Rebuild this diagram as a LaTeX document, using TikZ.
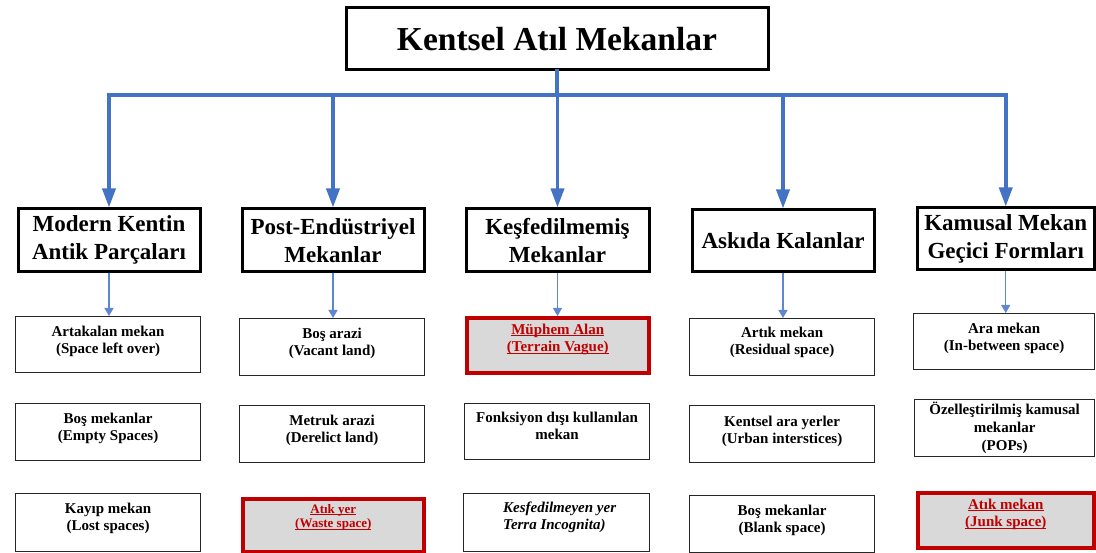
\documentclass[tikz,border=0pt]{standalone}
\usepackage{fontspec}
\setmainfont{Liberation Serif}
\usetikzlibrary{arrows.meta}
\definecolor{linkblue}{HTML}{4472C4}
\definecolor{softblue}{HTML}{5F86CF}
\definecolor{darkred}{HTML}{C00000}
\definecolor{panelgray}{HTML}{D9D9D9}
% underline with a fixed offset below the baseline
\newcommand\ulred[1]{\setbox0\hbox{#1}\rlap{\rule[-2pt]{\wd0}{0.9pt}}\box0}
% a box given by its top-left and bottom-right corners
\newcommand\cell[7]{\node[#2, anchor=north west, minimum width={#5-#3}, minimum height={#6-#4}] (#1) at (#3,#4) {#7};}
% text hanging from the top of a box; #3 = distance of the first baseline
\newcommand\tx[4]{\node[#2] (#1t) at ([yshift={-(#3-14)*1pt}]#1.north) {\rule{0pt}{14pt}#4};}
\begin{document}
\begin{tikzpicture}[x=1pt,y=-1pt,
  titlebox/.style={draw=black, line width=3pt, fill=white, inner sep=0,
    font=\fontsize{33.5}{40}\selectfont\bfseries},
  catbox/.style={draw=black, line width=3pt, fill=white, inner sep=0, align=center,
    font=\fontsize{23}{28}\selectfont\bfseries},
  subbox/.style={draw=black!85, line width=1.2pt, fill=white, inner sep=0},
  redbox/.style={draw=darkred, line width=3.6pt, fill=panelgray, inner sep=0},
  subtxt/.style={anchor=north, inner sep=0, align=center,
    font=\fontsize{15}{17.5}\selectfont\bfseries},
  redtxt/.style={subtxt, text=darkred},
  bus/.style={draw=linkblue, line width=4pt, line cap=rect},
  drop/.style={draw=linkblue, line width=3.5pt, -{Triangle[width=13pt,length=19pt]}},
  feed/.style={draw=softblue, line width=1.3pt, -{Triangle[width=9pt,length=8pt]}}]
\useasboundingbox (0,0) rectangle (1096,553);

% root
\cell{root}{titlebox}{344.5}{6.5}{766.5}{68}{Kentsel Atıl Mekanlar}

% categories
\cell{c1}{catbox}{16.5}{207.5}{198.5}{270}{Modern Kentin\\Antik Parçaları}
\cell{c2}{catbox}{240.5}{207.5}{422.5}{270}{Post-Endüstriyel\\Mekanlar}
\cell{c3}{catbox}{464.5}{207.5}{647.5}{270.5}{Keşfedilmemiş\\Mekanlar}
\cell{c4}{catbox}{690.5}{208.5}{872.5}{270.5}{Askıda Kalanlar}
\cell{c5}{catbox}{915.5}{206.5}{1093}{268.5}{Kamusal Mekan\\Geçici Formları}

% distribution bus
\coordinate (j) at (556,95);
\draw[bus] (root.south) -- (root.south |- j);
\draw[bus] (c1.north |- j) -- (c5.north |- j);
\foreach \c in {c1,c2,c3,c4,c5}
  \draw[drop] (\c.north |- j) -- (\c.north);

% first row
\cell{s11}{subbox}{15}{316}{200}{372}{}
\cell{s12}{subbox}{239}{318}{424}{375}{}
\cell{s13}{redbox}{465}{316}{647}{371}{}
\cell{s14}{subbox}{689}{318}{874}{375}{}
\cell{s15}{subbox}{913}{313}{1094}{369}{}
\tx{s11}{subtxt}{20}{Artakalan mekan\\(Space left over)}
\tx{s12}{subtxt}{20}{Boş arazi\\(Vacant land)}
\tx{s13}{redtxt}{18}{\ulred{Müphem Alan}\\\ulred{(Terrain Vague)}}
\tx{s14}{subtxt}{19}{Artık mekan\\(Residual space)}
\tx{s15}{subtxt}{20}{Ara mekan\\(In-between space)}

% second row
\cell{s21}{subbox}{15}{403}{200}{460}{}
\cell{s22}{subbox}{239}{405}{424}{462}{}
\cell{s23}{subbox}{464}{403}{649}{459}{}
\cell{s24}{subbox}{689}{405}{874}{462}{}
\cell{s25}{subbox}{914}{399}{1094}{456}{}
\tx{s21}{subtxt}{20}{Boş mekanlar\\(Empty Spaces)}
\tx{s22}{subtxt}{20}{Metruk arazi\\(Derelict land)}
\tx{s23}{subtxt}{19}{Fonksiyon dışı kullanılan\\mekan}
\tx{s24}{subtxt}{21}{Kentsel ara yerler\\(Urban interstices)}
\tx{s25}{subtxt, font=\fontsize{15}{18}\selectfont\bfseries}{15}{Özelleştirilmiş kamusal\\mekanlar\\(POPs)}

% third row
\cell{s31}{subbox}{15}{493}{200}{551}{}
\cell{s32}{redbox}{241}{497}{422}{550}{}
\cell{s33}{subbox}{463}{493}{649}{551}{}
\cell{s34}{subbox}{689}{495}{874}{552}{}
\cell{s35}{redbox}{916}{491}{1092}{546}{}
\tx{s31}{subtxt}{20}{Kayıp mekan\\(Lost spaces)}
\tx{s32}{redtxt, font=\fontsize{13}{14.5}\selectfont\bfseries}{16}{\ulred{Atık yer}\\\ulred{(Waste space)}}
\node[anchor=north west, inner sep=0, align=left,
  font=\fontsize{15}{17.5}\selectfont\bfseries\itshape] (s33t) at (503,498)
  {\rule{0pt}{14pt}Kesfedilmeyen yer\\Terra Incognita)};
\tx{s34}{subtxt}{20}{Boş mekanlar\\(Blank space)}
\tx{s35}{redtxt}{18}{\ulred{Atık mekan}\\\ulred{(Junk space)}}

% feeds from each category to its first entry
\draw[feed] (c1.south) -- (c1.south |- s11.north);
\draw[feed] (c2.south) -- (c2.south |- s12.north);
\draw[feed] (c3.south) -- (c3.south |- s13.north);
\draw[feed] (c4.south) -- (c4.south |- s14.north);
\draw[feed] (c5.south) -- (c5.south |- s15.north);
\end{tikzpicture}
\end{document}
